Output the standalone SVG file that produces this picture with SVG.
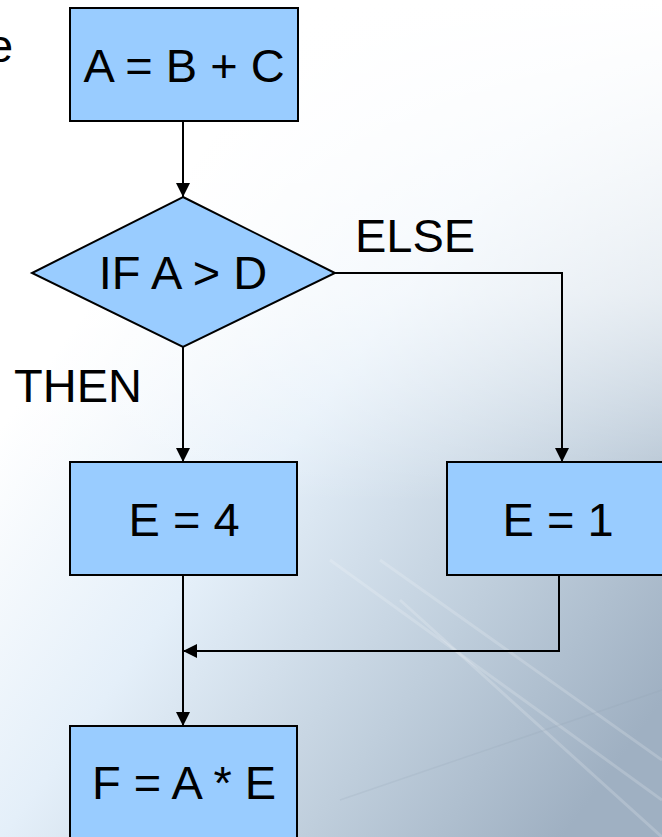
<svg xmlns="http://www.w3.org/2000/svg" width="662" height="837" viewBox="0 0 662 837">
  <defs>
    <linearGradient id="bg" x1="0.15" y1="0.35" x2="0.85" y2="1">
      <stop offset="0" stop-color="#ffffff"/>
      <stop offset="0.35" stop-color="#e4eff9"/>
      <stop offset="0.7" stop-color="#bfcedc"/>
      <stop offset="1" stop-color="#9fb0c2"/>
    </linearGradient>
    <linearGradient id="bg2" x1="0" y1="0" x2="0" y2="1">
      <stop offset="0" stop-color="#ffffff" stop-opacity="1"/>
      <stop offset="0.35" stop-color="#ffffff" stop-opacity="0.6"/>
      <stop offset="0.6" stop-color="#ffffff" stop-opacity="0"/>
    </linearGradient>
    <marker id="arr" viewBox="0 0 10 10" refX="10" refY="5" markerWidth="14" markerHeight="14" markerUnits="userSpaceOnUse" orient="auto">
      <path d="M0,0 L10,5 L0,10 Z" fill="#000"/>
    </marker>
    <style>
      .node { fill: #99ccff; stroke: #000; stroke-width: 2; }
      .lbl { font-family: "Liberation Sans", Arial, sans-serif; font-size: 47px; fill: #000; }
      .mid { text-anchor: middle; }
      .conn { fill: none; stroke: #000; stroke-width: 2; }
      .streak { stroke: #ffffff; stroke-opacity: 0.18; stroke-width: 3; fill: none; }
    </style>
  </defs>

  <g id="background">
    <rect x="0" y="0" width="662" height="837" fill="url(#bg)"/>
    <rect x="0" y="0" width="662" height="837" fill="url(#bg2)"/>
    <path class="streak" d="M330 560 L662 800"/>
    <path class="streak" d="M380 560 L662 760"/>
    <path class="streak" d="M400 600 L662 837"/>
    <path d="M340 800 L662 690" stroke="#8fa0b3" stroke-opacity="0.18" stroke-width="1.5" fill="none"/>
  </g>

  <text class="lbl" x="-13" y="62">e</text>

  <g id="connectors">
    <path class="conn" d="M183 121 L183 197" marker-end="url(#arr)"/>
    <path class="conn" d="M335 273 L562 273 L562 462" marker-end="url(#arr)"/>
    <path class="conn" d="M183 347 L183 462" marker-end="url(#arr)"/>
    <path class="conn" d="M183 575 L183 726" marker-end="url(#arr)"/>
    <path class="conn" d="M559 575 L559 651 L183 651" marker-end="url(#arr)"/>
    <text class="lbl" x="355" y="252">ELSE</text>
    <text class="lbl" x="14" y="402">THEN</text>
  </g>

  <g id="n1">
    <rect class="node" x="70" y="8" width="228" height="113"/>
    <text class="lbl mid" x="184" y="82">A = B + C</text>
  </g>

  <g id="n2">
    <polygon class="node" points="183,197 335,273 183,347 32,273"/>
    <text class="lbl mid" x="183" y="289">IF A &gt; D</text>
  </g>

  <g id="n3">
    <rect class="node" x="70" y="462" width="227" height="113"/>
    <text class="lbl mid" x="184" y="536">E = 4</text>
  </g>

  <g id="n4">
    <rect class="node" x="447" y="462" width="227" height="113"/>
    <text class="lbl mid" x="558" y="536">E = 1</text>
  </g>

  <g id="n5">
    <rect class="node" x="70" y="726" width="227" height="125"/>
    <text class="lbl mid" x="184" y="799">F = A * E</text>
  </g>
</svg>
